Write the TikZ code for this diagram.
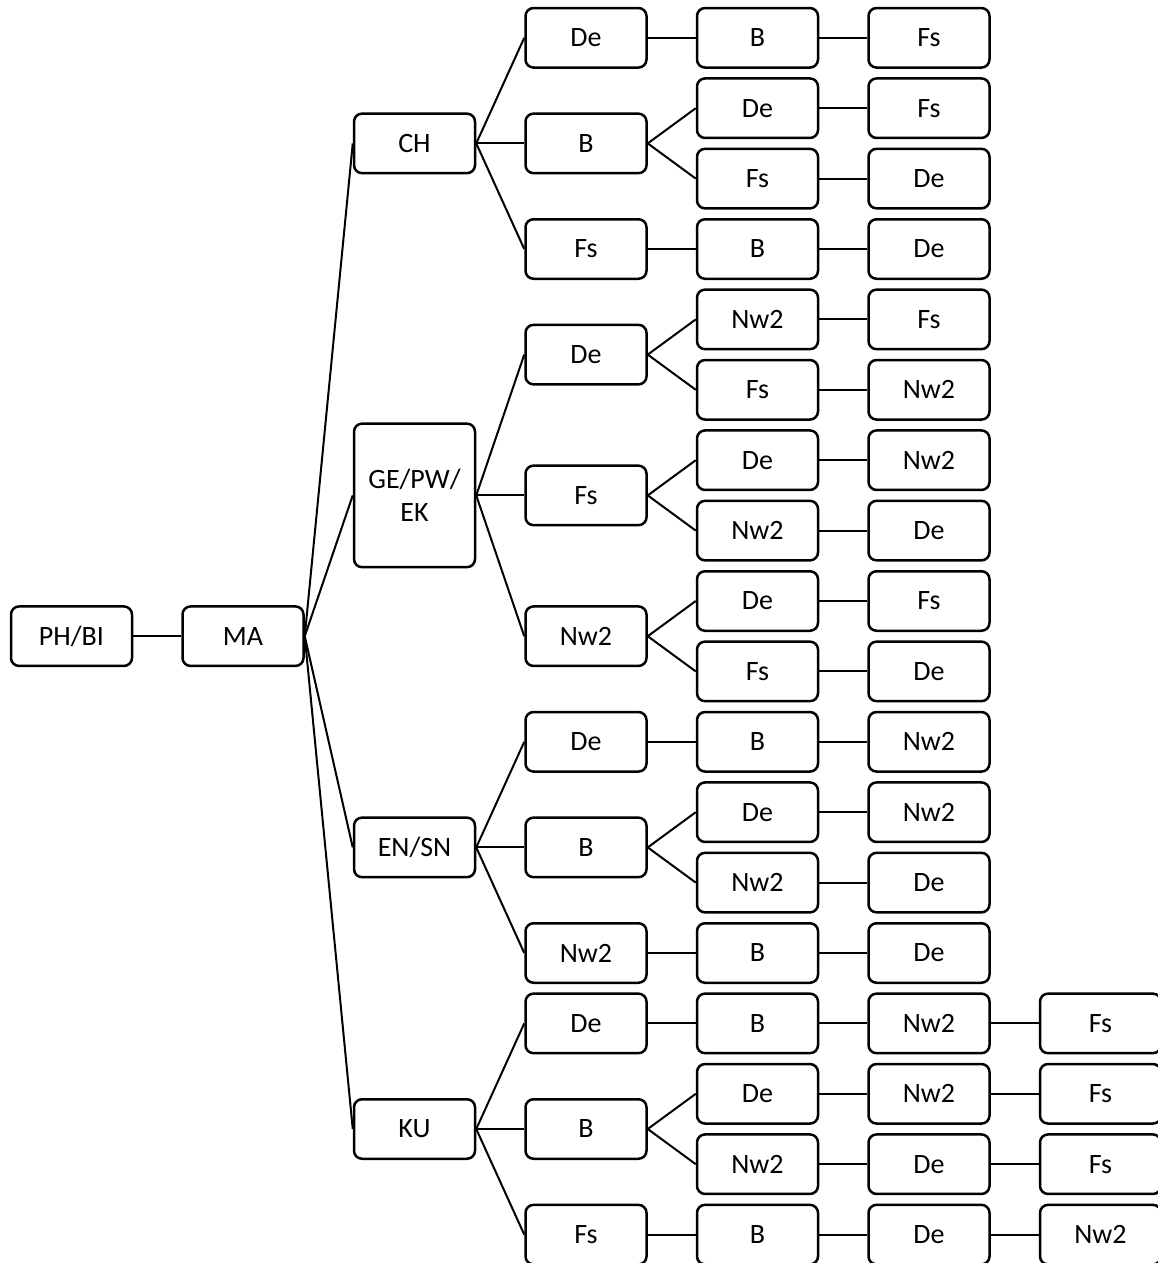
\documentclass[tikz,border=0pt]{standalone}
\usepackage{fontspec}
\setmainfont{Carlito}
\newcommand\colx[1]{71.5+171.5*(#1)}
\newcommand\rowy[1]{37.8+70.4*(#1)}
\newcommand\bx[4]{\node[box] (#1) at ({\colx{#2}},{\rowy{#3}}) {#4};}
\begin{document}
\begin{tikzpicture}[x=1pt,y=-1pt,
  box/.style={draw, rounded corners=8pt, minimum width=121pt, minimum height=59.5pt,
    line width=2.5pt, inner sep=0pt, font=\fontsize{28}{33}\selectfont, align=center},
  conn/.style={line width=2pt}]
\useasboundingbox (0,0) rectangle (1158,1263);
% columns 0-2
\bx{phbi}{0}{8.5}{PH/BI}
\bx{ma}{1}{8.5}{MA}
\bx{ch}{2}{1.5}{CH}
\node[box, minimum height=143.5pt] (ge) at ({\colx{2}},{\rowy{6.5}}) {GE/PW/\\EK};
\bx{en}{2}{11.5}{EN/SN}
\bx{ku}{2}{15.5}{KU}
% column 3
\bx{d0}{3}{0}{De}
\bx{d1}{3}{1.5}{B}
\bx{d2}{3}{3}{Fs}
\bx{d3}{3}{4.5}{De}
\bx{d4}{3}{6.5}{Fs}
\bx{d5}{3}{8.5}{Nw2}
\bx{d6}{3}{10}{De}
\bx{d7}{3}{11.5}{B}
\bx{d8}{3}{13}{Nw2}
\bx{d9}{3}{14}{De}
\bx{d10}{3}{15.5}{B}
\bx{d11}{3}{17}{Fs}
% column 4
\foreach \r/\t in {0/B,1/De,2/Fs,3/B,4/Nw2,5/Fs,6/De,7/Nw2,8/De,9/Fs,10/B,11/De,12/Nw2,13/B,14/B,15/De,16/Nw2,17/B}
  {\bx{e\r}{4}{\r}{\t}}
% column 5
\foreach \r/\t in {0/Fs,1/Fs,2/De,3/De,4/Fs,5/Nw2,6/Nw2,7/De,8/Fs,9/De,10/Nw2,11/Nw2,12/De,13/De,14/Nw2,15/Nw2,16/De,17/De}
  {\bx{f\r}{5}{\r}{\t}}
% column 6
\foreach \r/\t in {14/Fs,15/Fs,16/Fs,17/Nw2}
  {\bx{g\r}{6}{\r}{\t}}
% connectors
\draw[conn] (phbi.east) -- (ma.west);
\foreach \b in {ch,ge,en,ku} \draw[conn] (ma.east) -- (\b.west);
\foreach \a/\b in {ch/d0,ch/d1,ch/d2,ge/d3,ge/d4,ge/d5,en/d6,en/d7,en/d8,ku/d9,ku/d10,ku/d11,
  d0/e0,d1/e1,d1/e2,d2/e3,d3/e4,d3/e5,d4/e6,d4/e7,d5/e8,d5/e9,d6/e10,d7/e11,d7/e12,d8/e13,
  d9/e14,d10/e15,d10/e16,d11/e17,
  f14/g14,f15/g15,f16/g16,f17/g17}
  \draw[conn] (\a.east) -- (\b.west);
\foreach \r in {0,...,17} \draw[conn] (e\r.east) -- (f\r.west);
\end{tikzpicture}
\end{document}
